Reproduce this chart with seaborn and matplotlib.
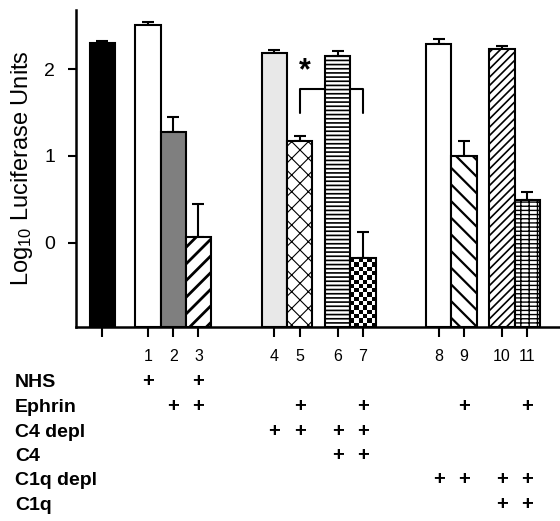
import numpy as np
import pandas as pd
import seaborn as sns
import matplotlib.pyplot as plt
from matplotlib import transforms

# Log10 luciferase units per lane, lane 0 = unlabelled control
lanes = ["", "1", "2", "3", "4", "5", "6", "7", "8", "9", "10", "11"]
log_units = [2.30, 2.51, 1.28, 0.07, 2.19, 1.17, 2.15, -0.18, 2.29, 1.00, 2.23, 0.49]
err_up = [0.025, 0.03, 0.17, 0.38, 0.03, 0.055, 0.06, 0.30, 0.055, 0.17, 0.035, 0.10]

# treatment table under the plot: lanes that get a "+"
conditions = ["NHS", "Ephrin", "C4 depl", "C4", "C1q depl", "C1q"]
nhs = ["1", "3"]
ephrin = ["2", "3", "5", "7", "9", "11"]
c4_depl = ["4", "5", "6", "7"]
c4 = ["6", "7"]
c1q_depl = ["8", "9", "10", "11"]
c1q = ["10", "11"]
plus_rows = [nhs, ephrin, c4_depl, c4, c1q_depl, c1q]

# layout / style
lane_pos = [0, 1.8, 2.8, 3.8, 6.8, 7.8, 9.3, 10.3, 13.3, 14.3, 15.8, 16.8]
faces = ["black", "white", "#7f7f7f", "white", "#e8e8e8", "white",
         "white", "white", "white", "white", "white", "white"]
hatches = [None, None, None, "//", None, "xx", "----", None, None, "\\\\", "////", "----||"]
hatch_lw = [1.2, 1.2, 1.2, 2.0, 1.2, 0.8, 1.2, 1.2, 1.2, 1.6, 1.2, 1.0]
CHECKER = 7
Y_MIN, Y_MAX = -0.97, 2.68
row_baselines = [387, 412, 437, 461, 485, 510]  # pixels from top

sns.set_style("ticks")
plt.rcParams["font.family"] = ["Liberation Sans", "DejaVu Sans"]
plt.rcParams["mathtext.fontset"] = "custom"
plt.rcParams["mathtext.rm"] = "Liberation Sans"
plt.rcParams["mathtext.default"] = "regular"
plt.rcParams["hatch.linewidth"] = 1.2
for k in ["text.color", "axes.labelcolor", "xtick.color", "ytick.color", "axes.edgecolor"]:
    plt.rcParams[k] = "black"

W, H = 560, 521
fig = plt.figure(figsize=(W / 100, H / 100), dpi=100)
ax = fig.add_axes([76 / W, 1 - 327 / H, (W - 76) / W, (327 - 10) / H])

df = pd.DataFrame({"pos": lane_pos, "value": log_units})
df["height"] = df["value"] - Y_MIN
sns.barplot(data=df, x="pos", y="height", native_scale=True, orient="x",
            width=1.0, color="white", edgecolor="black", linewidth=1.5,
            errorbar=None, bottom=Y_MIN, ax=ax, zorder=3)

bars = ax.patches
for p, fc, ht, hl in zip(bars, faces, hatches, hatch_lw):
    p.set_facecolor(fc)
    p.set_edgecolor("black")
    if ht:
        p.set_hatch(ht)
        if hasattr(p, "set_hatch_linewidth"):
            p.set_hatch_linewidth(hl)

ax.errorbar(lane_pos, log_units, yerr=[np.zeros(len(err_up)), err_up], fmt="none",
            ecolor="black", elinewidth=1.5, capsize=4, capthick=1.5, zorder=2)

ax.set_xlim(-1.04, 18.09)
ax.set_ylim(Y_MIN, Y_MAX)

# checkerboard fill for lane 7
p = bars[CHECKER]
x0, y0 = p.get_x(), p.get_y()
x1, y1 = x0 + p.get_width(), y0 + p.get_height()
(px0, py0), (px1, py1) = ax.transData.transform([(x0, y0), (x1, y1)])
nx = max(1, int(round((px1 - px0) / 4.2)))
ny = max(1, int(round((py1 - py0) / 4.2)))
board = np.add.outer(np.arange(ny), np.arange(nx)) % 2
im = ax.imshow(board, cmap="gray", extent=(x0, x1, y0, y1), aspect="auto",
               interpolation="nearest", zorder=3.2)
im.set_clip_path(p)
p.set_facecolor("none")
p.set_zorder(3.5)
ax.set_xlim(-1.04, 18.09)
ax.set_ylim(Y_MIN, Y_MAX)

# significance bracket between lanes 5 and 7
xa, xb = lane_pos[5], lane_pos[7]
ax.plot([xa, xa, xb, xb], [1.49, 1.77, 1.77, 1.49], color="black", lw=1.5, zorder=2)
ax.text(xa + 0.2, 1.98, "*", fontsize=22, ha="center", va="center", fontweight="bold")

ax.set_yticks([0, 1, 2])
ax.set_xticks(lane_pos, labels=lanes)
ax.tick_params(axis="y", length=6, width=1.5, labelsize=14, pad=9)
ax.tick_params(axis="x", length=7, width=1.5, labelsize=11.5, pad=9)
for s in ["top", "right"]:
    ax.spines[s].set_visible(False)
for s in ["left", "bottom"]:
    ax.spines[s].set_linewidth(1.8)

ax.set_xlabel("")
ax.set_ylabel("Log$_{10}$ Luciferase Units", fontsize=17)
ax.yaxis.set_label_coords(-0.085, 0.5)

blend = transforms.blended_transform_factory(ax.transData, fig.transFigure)
for name, base, row in zip(conditions, row_baselines, plus_rows):
    yf = 1 - base / H
    fig.text(15 / W, yf, name, fontsize=14, fontweight="bold", va="baseline")
    for lane in row:
        ax.text(lane_pos[lanes.index(lane)], yf, "+", transform=blend, fontsize=14.5,
                fontweight="bold", ha="center", va="baseline")

fig.savefig("out.png", dpi=100)
